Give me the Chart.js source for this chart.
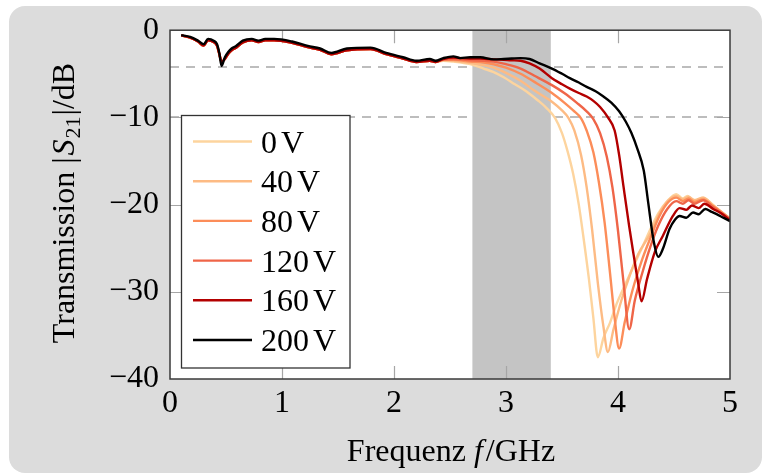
<!DOCTYPE html>
<html><head><meta charset="utf-8">
<script src="https://cdn.jsdelivr.net/npm/chart.js@4.4.1/dist/chart.umd.min.js"></script>
<style>
html,body{margin:0;padding:0;background:#fff;width:765px;height:475px;overflow:hidden}
#panel{position:absolute;left:9px;top:6px;width:753px;height:467px;background:#dcdcdc;border-radius:16px}
#c{position:absolute;left:0;top:0}
</style></head><body>
<div id="panel"></div>
<canvas id="c" width="765" height="475"></canvas>
<script>
// ---------- data ----------
const seriesLabels = ['0 V','40 V','80 V','120 V','160 V','200 V'];
const xTicks = [0,1,2,3,4,5];
const yTicks = [0,-10,-20,-30,-40];
const bandRange = [2.7, 3.4];
const refLevels = [-4.2, -10];

// common low-frequency part (GHz)
const freqLow = [0.10,0.18,0.25,0.30,0.34,0.39,0.42,0.44,0.46,0.49,0.52,0.55,0.59,0.65,0.73,0.79,0.85,0.93,1.09,1.23,1.34,1.44,1.58,1.79,1.93,2.08,2.20,2.32,2.37];
const dbLowBlack = [-0.56,-0.76,-1.2,-1.6,-1.0,-1.2,-1.6,-2.6,-4.1,-3.1,-2.5,-2.1,-1.8,-1.2,-1.0,-1.2,-1.0,-1.0,-1.3,-1.8,-2.1,-2.6,-2.1,-2.0,-2.6,-3.1,-3.5,-3.3,-3.5];
const dbLowColored = [-0.6,-0.85,-1.3,-1.75,-1.15,-1.35,-1.8,-2.7,-3.6,-3.3,-2.7,-2.3,-2.0,-1.4,-1.15,-1.35,-1.15,-1.15,-1.45,-1.95,-2.25,-2.75,-2.3,-2.15,-2.75,-3.25,-3.65,-3.5,-3.65];

const freq0V = [2.44,2.53,2.68,2.80,2.89,2.98,3.08,3.18,3.28,3.36,3.44,3.50,3.55,3.60,3.65,3.69,3.74,3.78,3.82,3.87,3.93,3.99,4.07,4.14,4.22,4.29,4.36,4.44,4.52,4.58,4.62,4.66,4.70,4.76,4.80,4.90,5.00];
const db0V = [-3.5,-3.6,-3.9,-4.4,-4.8,-5.4,-6.2,-7.0,-8.0,-8.9,-10.1,-11.8,-13.9,-16.5,-20.0,-23.6,-28.5,-33.0,-37.5,-35.3,-33.5,-31.3,-29.0,-27.0,-24.8,-22.8,-21.0,-19.6,-18.8,-19.3,-19.0,-19.4,-19.5,-19.2,-19.5,-20.6,-21.6];

const freq40V = [2.44,2.53,2.68,2.80,2.89,3.00,3.13,3.25,3.41,3.50,3.56,3.61,3.67,3.72,3.77,3.82,3.87,3.91,3.96,4.03,4.10,4.18,4.29,4.37,4.45,4.52,4.58,4.63,4.68,4.76,4.85,5.00];
const db40V = [-3.45,-3.5,-3.75,-4.0,-4.3,-4.9,-5.8,-6.9,-8.2,-9.2,-10.1,-11.5,-14.3,-18.0,-23.0,-29.0,-34.0,-36.9,-34.3,-31.0,-28.3,-25.7,-23.3,-21.0,-19.5,-19.0,-19.4,-19.1,-19.5,-19.2,-20.1,-21.6];

const freq80V = [2.44,2.53,2.68,2.80,2.89,3.00,3.13,3.25,3.41,3.52,3.60,3.67,3.72,3.78,3.83,3.88,3.93,3.97,4.01,4.06,4.13,4.21,4.29,4.37,4.45,4.52,4.58,4.63,4.68,4.76,4.85,5.00];
const db80V = [-3.4,-3.4,-3.6,-3.7,-3.9,-4.3,-5.0,-5.9,-7.2,-8.3,-9.2,-10.1,-11.5,-14.0,-17.5,-22.0,-28.0,-33.0,-36.5,-33.5,-29.8,-26.5,-23.8,-21.3,-19.7,-19.2,-19.6,-19.3,-19.7,-19.4,-20.2,-21.6];

const freq120V = [2.44,2.53,2.68,2.80,2.89,3.00,3.13,3.25,3.41,3.52,3.63,3.72,3.78,3.84,3.90,3.95,4.00,4.05,4.10,4.15,4.22,4.29,4.36,4.44,4.52,4.58,4.63,4.68,4.76,4.85,5.00];
const db120V = [-3.35,-3.3,-3.45,-3.5,-3.6,-3.9,-4.4,-5.2,-6.3,-7.2,-8.3,-9.3,-10.2,-11.8,-14.5,-18.0,-23.0,-29.0,-34.3,-31.0,-27.7,-24.8,-22.4,-20.5,-19.6,-19.9,-19.5,-19.9,-19.5,-20.3,-21.7];

const freq160V = [2.44,2.53,2.68,2.77,2.89,2.98,3.05,3.13,3.21,3.30,3.41,3.50,3.57,3.65,3.72,3.78,3.84,3.91,3.97,4.01,4.05,4.10,4.14,4.18,4.21,4.26,4.33,4.40,4.49,4.55,4.61,4.66,4.72,4.77,4.85,4.92,5.00];
const db160V = [-3.3,-3.15,-3.25,-3.25,-3.35,-3.4,-3.45,-3.5,-3.8,-4.4,-5.5,-6.2,-6.7,-7.2,-7.6,-8.1,-8.8,-10.0,-11.5,-14.3,-18.0,-22.5,-25.8,-29.0,-31.1,-28.5,-25.4,-23.6,-21.3,-20.4,-20.6,-20.1,-20.4,-19.9,-20.5,-21.0,-21.8];

const freq200V = [2.44,2.53,2.59,2.68,2.77,2.89,2.98,3.05,3.13,3.21,3.30,3.41,3.50,3.57,3.65,3.72,3.80,3.87,3.94,4.01,4.07,4.12,4.17,4.23,4.27,4.32,4.36,4.40,4.46,4.51,4.55,4.61,4.67,4.72,4.78,4.83,4.88,4.94,5.00];
const db200V = [-3.2,-3.0,-3.2,-3.1,-3.1,-3.35,-3.3,-3.25,-3.2,-3.3,-3.8,-4.4,-5.0,-5.5,-6.0,-6.5,-7.0,-7.6,-8.3,-9.3,-10.5,-11.8,-13.5,-16.1,-19.8,-24.3,-26.0,-25.1,-22.8,-21.7,-21.3,-21.5,-20.9,-21.1,-20.5,-20.8,-21.1,-21.5,-21.9];

// ---------- styles ----------
const seriesColors = ['#fdd49e','#fdbb84','#fc8d59','#ef6548','#b30000','#000000'];
const FONT = '"Liberation Serif", "Times New Roman", serif';
const FS = 32;

function pts(fa, da){ return fa.map((f,i)=>({x:f, y:da[i]})); }
const tails = [[freq0V,db0V],[freq40V,db40V],[freq80V,db80V],[freq120V,db120V],[freq160V,db160V],[freq200V,db200V]];
const datasets = tails.map((t,i)=>{
  const low = i === 5 ? dbLowBlack : dbLowColored;
  return {
    label: seriesLabels[i],
    data: pts(freqLow, low).concat(pts(t[0], t[1])),
    borderColor: seriesColors[i],
    backgroundColor: seriesColors[i],
    borderWidth: 2.4,
    pointRadius: 0,
    fill: false,
    cubicInterpolationMode: 'monotone',
    order: 5 - i
  };
});

const deco = {
  id: 'deco',
  beforeDatasetsDraw(chart){
    const {ctx, chartArea:a, scales:{x, y}} = chart;
    ctx.save();
    ctx.fillStyle = '#fff';
    ctx.fillRect(a.left, a.top, a.width, a.height);
    ctx.strokeStyle = '#bdbdbd'; ctx.lineWidth = 2; ctx.setLineDash([9,7]);
    refLevels.forEach(v=>{
      const py = Math.round(y.getPixelForValue(v));
      ctx.beginPath(); ctx.moveTo(a.left, py); ctx.lineTo(a.right, py); ctx.stroke();
    });
    ctx.setLineDash([]);
    const x0 = x.getPixelForValue(bandRange[0]), x1 = x.getPixelForValue(bandRange[1]);
    ctx.fillStyle = '#c4c4c4';
    ctx.fillRect(x0, a.top, x1 - x0, a.height);
    // inner tick marks
    ctx.strokeStyle = '#a6a6a6'; ctx.lineWidth = 1.2;
    const tl = 13;
    xTicks.slice(1,-1).forEach(v=>{
      const px = Math.round(x.getPixelForValue(v)) + 0.5;
      ctx.beginPath();
      ctx.moveTo(px, a.top); ctx.lineTo(px, a.top + tl);
      ctx.moveTo(px, a.bottom); ctx.lineTo(px, a.bottom - tl);
      ctx.stroke();
    });
    yTicks.slice(1,-1).forEach(v=>{
      const py = Math.round(y.getPixelForValue(v)) + 0.5;
      ctx.beginPath();
      ctx.moveTo(a.left, py); ctx.lineTo(a.left + tl, py);
      ctx.moveTo(a.right, py); ctx.lineTo(a.right - tl, py);
      ctx.stroke();
    });
    ctx.restore();
  },
  afterDatasetsDraw(chart){
    const {ctx, chartArea:a} = chart;
    ctx.save();
    // frame
    ctx.strokeStyle = '#3a3a3a'; ctx.lineWidth = 1.5;
    ctx.strokeRect(a.left, a.top, a.width, a.height);
    // legend
    const L = {x:181.5, y:115.5, w:168.5, h:252.5};
    ctx.fillStyle = '#fff';
    ctx.fillRect(L.x, L.y, L.w, L.h);
    ctx.strokeStyle = '#333'; ctx.lineWidth = 1.3;
    ctx.strokeRect(L.x, L.y, L.w, L.h);
    ctx.textBaseline = 'alphabetic'; ctx.textAlign = 'left';
    chart.data.datasets.forEach((ds, i)=>{
      const ry = 141.5 + 39.7 * i;
      ctx.strokeStyle = ds.borderColor; ctx.lineWidth = 2.4;
      ctx.beginPath(); ctx.moveTo(193, ry); ctx.lineTo(252, ry); ctx.stroke();
      ctx.fillStyle = '#000';
      ctx.font = FS + 'px ' + FONT;
      // number and unit separated by a thin gap
      const [num, unit] = ds.label.split(' ');
      ctx.fillText(num, 261, ry + 11);
      const nw = ctx.measureText(num).width;
      ctx.fillText(unit, 261 + nw + 4, ry + 11);
    });
    // x title: Frequenz f/GHz
    const parts = [
      {t:'Frequenz ', f:FS + 'px ' + FONT},
      {t:'f', f:'italic ' + FS + 'px ' + FONT, gap:3},
      {t:'/GHz', f:FS + 'px ' + FONT}
    ];
    let w = 0;
    parts.forEach(p=>{ctx.font = p.f; p.w = ctx.measureText(p.t).width + (p.gap||0); w += p.w;});
    let cx = 451 - w/2;
    ctx.fillStyle = '#000';
    parts.forEach(p=>{ctx.font = p.f; ctx.fillText(p.t, cx, 461); cx += p.w;});
    // y title: Transmission |S21|/dB
    ctx.translate(74, 203);
    ctx.rotate(-Math.PI/2);
    const yp = [
      {t:'Transmission |', f:FS + 'px ' + FONT, dy:0, gap:2},
      {t:'S', f:'italic ' + FS + 'px ' + FONT, dy:0, gap:1},
      {t:'21', f:'22px ' + FONT, dy:6, gap:1},
      {t:'|/dB', f:FS + 'px ' + FONT, dy:0}
    ];
    w = 0;
    yp.forEach(p=>{ctx.font = p.f; p.w = ctx.measureText(p.t).width + (p.gap||0); w += p.w;});
    cx = -w/2;
    yp.forEach(p=>{ctx.font = p.f; ctx.fillText(p.t, cx, p.dy); cx += p.w;});
    ctx.restore();
  }
};

new Chart(document.getElementById('c'), {
  type: 'line',
  data: {datasets},
  options: {
    responsive: false,
    animation: false,
    devicePixelRatio: 1,
    layout: {padding: {left: 0, right: 35, top: 24, bottom: 0}},
    plugins: {legend: {display: false}, tooltip: {enabled: false}},
    scales: {
      x: {
        type: 'linear', min: 0, max: 5,
        afterBuildTicks: s => { s.ticks = xTicks.map(v => ({value: v})); },
        ticks: {font: {family: FONT, size: FS}, color: '#000', padding: 5, maxRotation: 0, autoSkip: false,
                callback: v => String(v)},
        grid: {display: false, drawTicks: false},
        border: {display: false},
        afterFit: s => { s.height = 96; }
      },
      y: {
        type: 'linear', min: -40, max: 0,
        afterBuildTicks: s => { s.ticks = yTicks.map(v => ({value: v})); },
        ticks: {font: {family: FONT, size: FS}, color: '#000', padding: 11, autoSkip: false,
                callback: v => String(v).replace('-', '\u2212')},
        grid: {display: false, drawTicks: false},
        border: {display: false},
        afterFit: s => { s.width = 170; }
      }
    }
  },
  plugins: [deco]
});
</script>
</body></html>
